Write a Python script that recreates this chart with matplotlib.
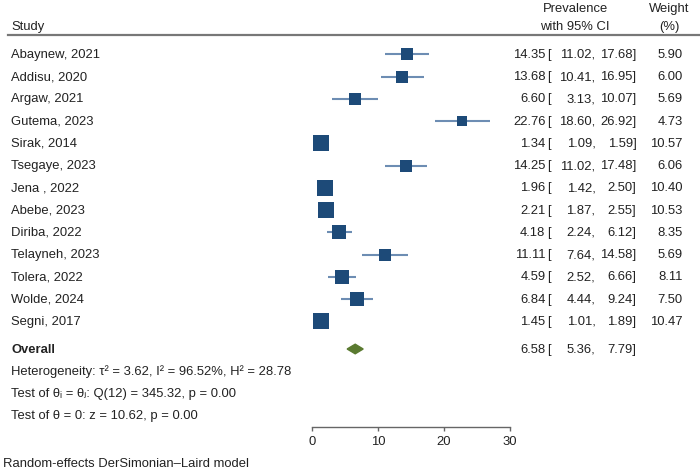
import numpy as np
import matplotlib
matplotlib.use("Agg")
import matplotlib.pyplot as plt
from matplotlib.lines import Line2D

plt.rcParams['font.family'] = ['Liberation Sans', 'DejaVu Sans']

studies = ["Abaynew, 2021", "Addisu, 2020", "Argaw, 2021", "Gutema, 2023",
           "Sirak, 2014", "Tsegaye, 2023", "Jena , 2022", "Abebe, 2023",
           "Diriba, 2022", "Telayneh, 2023", "Tolera, 2022", "Wolde, 2024",
           "Segni, 2017"]
est = [14.35, 13.68, 6.60, 22.76, 1.34, 14.25, 1.96, 2.21, 4.18, 11.11, 4.59, 6.84, 1.45]
lo = [11.02, 10.41, 3.13, 18.60, 1.09, 11.02, 1.42, 1.87, 2.24, 7.64, 2.52, 4.44, 1.01]
hi = [17.68, 16.95, 10.07, 26.92, 1.59, 17.48, 2.50, 2.55, 6.12, 14.58, 6.66, 9.24, 1.89]
weights = [5.90, 6.00, 5.69, 4.73, 10.57, 6.06, 10.40, 10.53, 8.35, 5.69, 8.11, 7.50, 10.47]

overall = (6.58, 5.36, 7.79)
het_lines = ["Heterogeneity: τ² = 3.62, I² = 96.52%, H² = 28.78",
             "Test of θᵢ = θⱼ: Q(12) = 345.32, p = 0.00",
             "Test of θ = 0: z = 10.62, p = 0.00"]
xticks = [0, 10, 20, 30]

W, H = 700, 471
fig = plt.figure(figsize=(W / 100, H / 100), dpi=100)
fs = 9.4
txt_color = "#222222"
base_off = 3.6  # baseline sits this many px below the row centre


def fx(px):
    return px / W


def fy(py):
    return 1 - py / H


def put(x, y, s, ha="left", **kw):
    fig.text(fx(x), fy(y + base_off), s, fontsize=fs, color=txt_color,
             va="baseline", ha=ha, **kw)


# axes: y in pixel rows from the top, bottom edge = x axis line
axis_y = 427
x0, x1 = 311.7, 510
ax = fig.add_axes([fx(x0), fy(axis_y), (x1 - x0) / W, axis_y / H])
ax.set_xlim(0, 30)
ax.set_ylim(axis_y, 0)
for s in ["top", "left", "right"]:
    ax.spines[s].set_visible(False)
ax.spines["bottom"].set_color("#666666")
ax.spines["bottom"].set_linewidth(1.0)
ax.set_yticks([])
ax.set_xticks(xticks)
ax.tick_params(axis="x", length=3, width=1.0, color="#666666",
               labelsize=fs, labelcolor=txt_color, pad=3.5)
ax.patch.set_alpha(0)

row_y = [54.3 + 22.25 * i for i in range(len(studies))]
sq_color = "#1d4a78"
ci_color = "#6d8db3"

for y, e, l, h, w in zip(row_y, est, lo, hi, weights):
    ax.plot([l, h], [y, y], color=ci_color, lw=1.5, solid_capstyle="butt",
            clip_on=False, zorder=2)
    ax.plot(e, y, marker="s", markersize=3.45 * np.sqrt(w), color=sq_color,
            markeredgewidth=0, clip_on=False, zorder=3)

oy = 349
oe, ol, oh = overall
ax.fill([ol, oe, oh, oe], [oy, oy - 4.8, oy, oy + 4.8], color="#5a7a30",
        clip_on=False, zorder=3)

# header
put(11, 26.5, "Study")
put(575, 8.5, "Prevalence", ha="center")
put(575, 26.5, "with 95% CI", ha="center")
put(669, 8.5, "Weight", ha="center")
put(669, 26.5, "(%)", ha="center")
fig.add_artist(Line2D([fx(8), fx(700)], [fy(35), fy(35)], color="#777777",
                      lw=1.6, transform=fig.transFigure))


def ci_text(y, e, l, h):
    put(545.5, y, f"{e:.2f}", ha="right")
    put(547.5, y, "[")
    put(595.5, y, f"{l:.2f},", ha="right")
    put(636.5, y, f"{h:.2f}]", ha="right")


for y, name, e, l, h, w in zip(row_y, studies, est, lo, hi, weights):
    put(11, y, name)
    ci_text(y, e, l, h)
    put(682.5, y, f"{w:.2f}", ha="right")

put(11, oy, "Overall", fontweight="bold")
ci_text(oy, oe, ol, oh)

for i, line in enumerate(het_lines):
    put(11, 371 + 22 * i, line)

put(3, 463, "Random-effects DerSimonian–Laird model")

fig.savefig("out.png", dpi=100)
